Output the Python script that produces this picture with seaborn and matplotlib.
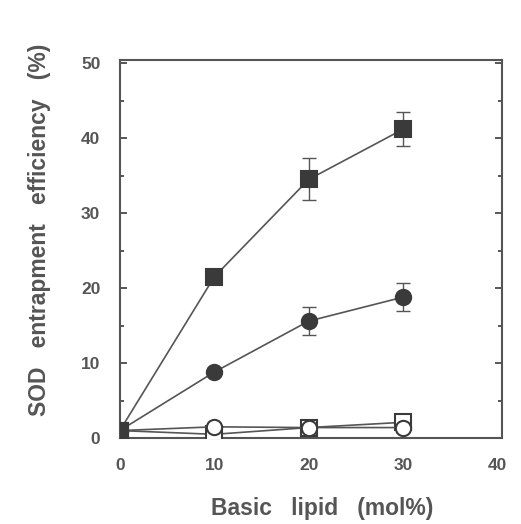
import matplotlib
matplotlib.use("Agg")
import matplotlib.pyplot as plt
import seaborn as sns
import pandas as pd
from matplotlib.ticker import MultipleLocator

sns.set_style("ticks")
plt.rcParams['font.family'] = ['Liberation Sans', 'DejaVu Sans']

x = [0, 10, 20, 30]
filled_square = [1.0, 21.5, 34.5, 41.2]
filled_square_err = [0, 0, 2.8, 2.3]
filled_circle = [1.0, 8.8, 15.6, 18.8]
filled_circle_err = [0, 0, 1.9, 1.9]
open_square = [1.0, 0.5, 1.4, 2.1]
open_circle = [1.0, 1.5, 1.4, 1.4]

ink = '#3a3a3a'
txt = '#555555'

fig = plt.figure(figsize=(5.21, 5.24), dpi=100)
ax = fig.add_axes([0.230, 0.164, 0.734, 0.721])

series = [
    (open_square, None, 's', 'white', 11),
    (open_circle, None, 'o', 'white', 11),
    (filled_circle, filled_circle_err, 'o', ink, 11),
    (filled_square, filled_square_err, 's', ink, 11),
]
for vals, err, m, fc, ms in series:
    df = pd.DataFrame({'x': x, 'y': vals})
    sns.lineplot(data=df, x='x', y='y', ax=ax, color='#555555', lw=1.2,
                 marker=m, markersize=ms, markerfacecolor=fc,
                 markeredgecolor=ink, markeredgewidth=1.5, zorder=3)
    if err is not None:
        ax.errorbar(x, vals, yerr=err, fmt='none', ecolor='#555555',
                    elinewidth=1.0, capsize=5, capthick=1.0, zorder=2)

ax.set_xlim(0, 40.5)
ax.set_ylim(0, 50.4)
ax.set_xticks([0, 10, 20, 30, 40])
ax.set_yticks([0, 10, 20, 30, 40, 50])
ax.yaxis.set_minor_locator(MultipleLocator(5))
ax.tick_params(axis='y', which='both', direction='in', left=True, right=True,
               length=5, width=1.2, colors=ink, labelcolor=txt, labelsize=12.5, pad=14)
ax.tick_params(axis='y', which='minor', length=3)
ax.tick_params(axis='x', direction='in', length=0, labelcolor=txt, labelsize=12.5, pad=14)
for lab in ax.get_xticklabels() + ax.get_yticklabels():
    lab.set_fontweight('bold')
for s in ax.spines.values():
    s.set_color('#555555')
    s.set_linewidth(1.5)

ax.set_xlabel('Basic   lipid   (mol%)', fontsize=16.5, fontweight='bold', color=txt)
ax.set_ylabel('SOD   entrapment   efficiency   (%)', fontsize=16.5, fontweight='bold', color=txt)
ax.xaxis.set_label_coords(0.53, -0.155)
ax.yaxis.set_label_coords(-0.18, 0.55)

fig.savefig('out.png', dpi=100)
